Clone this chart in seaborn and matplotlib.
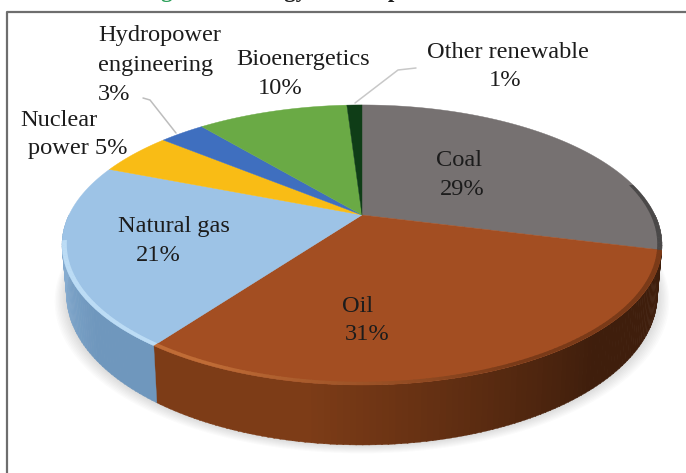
import numpy as np
import matplotlib
matplotlib.use('Agg')
import matplotlib.pyplot as plt
import matplotlib.colors as mc
import seaborn as sns

sources = ['Coal', 'Oil', 'Natural gas', 'Nuclear power', 'Hydropower engineering', 'Bioenergetics', 'Other renewable']
shares = [29, 31, 21, 5, 3, 10, 1]
top_colors = ['#767171', '#a34e22', '#9dc3e6', '#f9bc15', '#3f6fbf', '#6aaa45', '#0f3d17']
# side of the disc, colour at start and end of each visible piece (clockwise)
side_start = ['#3a3838', '#3f1e0c', '#6f97bd', '#8ab0d4', '#8ab0d4', '#8ab0d4', '#8ab0d4']
side_end = ['#3a3838', '#7d3c17', '#86acd0', '#8ab0d4', '#8ab0d4', '#8ab0d4', '#8ab0d4']
rim_start = ['#4a4848', '#7a3a18', '#bcdcf5', '#f9bc15', '#3f6fbf', '#6aaa45', '#0f3d17']
rim_end = ['#4a4848', '#c06c36', '#bcdcf5', '#f9bc15', '#3f6fbf', '#6aaa45', '#0f3d17']

sns.set_theme(style='white')
plt.rcParams['font.family'] = ['Liberation Serif', 'DejaVu Serif']

CX, CY = 362, 215
RX, K, C = 293, 133.6, 0.214
DEPTH = 60


def proj(theta, r=1.0, drop=0.0, shrink=1.0):
    # clockwise angle from top -> pixel position, tilted disc with perspective
    u = r * np.sin(theta)
    v = r * np.cos(theta)
    w = 1 + C * v
    x = CX + shrink * RX * u / w
    y = CY - K * v / w + drop * (1 - C) / w
    return x, y


def ring(a, b, r=1.0, drop=0.0, shrink=1.0, n=200):
    return proj(np.linspace(a, b, n), r, drop, shrink)


fig, ax = plt.subplots(figsize=(6.86, 4.73), dpi=100)
fig.subplots_adjust(0, 0, 1, 1)
ax.set_xlim(0, 686)
ax.set_ylim(473, 0)
ax.axis('off')

# frame
ax.plot([7, 7, 686], [473, 12, 12], color='#6e6e6e', lw=1.6, zorder=1)

# title, the reference is cropped through it too: only the descenders show
ax.text(141, -3.5, 'Figure 1:', fontsize=16.5, fontweight='bold', color='#2ca05a', va='baseline', zorder=1)
ax.text(236, -3.5, 'Energy consumption', fontsize=16.5, fontweight='bold', color='#1c1c1c', va='baseline', zorder=1)

# soft shadow under the disc
for grow, alpha in zip(np.linspace(12, 1, 9), [0.025] * 9):
    sx, sy = ring(np.pi * 0.45, np.pi * 1.55, 1.0, DEPTH + grow * 0.7, 0.985)
    sx = CX + (sx - CX) * (1 + grow / 300)
    ax.fill(np.r_[sx, sx[0]], np.r_[sy, sy[0]], color='#555555', alpha=alpha, lw=0, zorder=2)

edges = np.deg2rad(np.r_[0, np.cumsum(shares)] * 3.6)

# side wall, thin strips so that the shade can change along it
for i in range(len(shares)):
    a, b = max(edges[i], np.pi / 2), min(edges[i + 1], np.pi * 1.5)
    if a >= b:
        continue
    steps = max(int(np.degrees(b - a)), 1)
    c0, c1 = np.array(mc.to_rgb(side_start[i])), np.array(mc.to_rgb(side_end[i]))
    cuts = np.linspace(a, b, steps + 1)
    for j in range(steps):
        # dark stays dark for the first part of the piece, then gets lighter
        t = np.clip((j / steps - 0.3) / 0.45, 0, 1)
        col = c0 + (c1 - c0) * t
        x0, y0 = ring(cuts[j], cuts[j + 1] + 0.003, n=6)
        x1, y1 = ring(cuts[j], cuts[j + 1] + 0.003, drop=DEPTH, shrink=0.985, n=6)
        ax.fill(np.r_[x0, x1[::-1]], np.r_[y0, y1[::-1]], color=col, lw=0.3, ec=col, zorder=3)

# top face
for i in range(len(shares)):
    x, y = ring(edges[i], edges[i + 1])
    ax.fill(np.r_[CX, x], np.r_[CY, y], color=top_colors[i], lw=0.3, ec=top_colors[i], zorder=4)

# lighter rim along the front edge of the top face
for i in range(len(shares)):
    a, b = edges[i], edges[i + 1]
    steps = max(int(np.degrees(b - a)), 1)
    c0, c1 = np.array(mc.to_rgb(rim_start[i])), np.array(mc.to_rgb(rim_end[i]))
    cuts = np.linspace(a, b, steps + 1)
    for j in range(steps):
        if not (np.pi * 0.42 < cuts[j] < np.pi * 1.44):
            continue
        col = c0 + (c1 - c0) * np.clip((j / steps - 0.45) / 0.45, 0, 1)
        x0, y0 = ring(cuts[j], cuts[j + 1] + 0.003, r=0.985, n=4)
        x1, y1 = ring(cuts[j], cuts[j + 1] + 0.003, r=1.0, n=4)
        ax.fill(np.r_[x0, x1[::-1]], np.r_[y0, y1[::-1]], color=col, lw=0, zorder=5)

# leader lines
ax.plot([143, 150, 176], [98, 100, 133], color='#bdbdbd', lw=1.1, zorder=6)
ax.plot([416, 398, 355], [68, 70, 103], color='#c8c8c8', lw=1.1, zorder=6)

# labels
FS = 17.6
INK = '#1c1c1c'
labels = [
    ('Hydropower', 98, 36, 'left'), ('engineering', 98, 66, 'left'), ('3%', 98, 95, 'left'),
    ('Bioenergetics', 303, 60, 'center'), ('10%', 280, 88, 'center'),
    ('Other renewable', 508, 53, 'center'), ('1%', 505, 81, 'center'),
    ('Nuclear', 20, 120, 'left'), ('power 5%', 28, 148, 'left'),
    ('Coal', 459, 160, 'center'), ('29%', 462, 189, 'center'),
    ('Natural gas', 174, 226, 'center'), ('21%', 158, 255, 'center'),
    ('Oil', 358, 306, 'center'), ('31%', 367, 334, 'center'),
]
for txt, lx, ly, ha in labels:
    ax.text(lx, ly, txt, fontsize=FS, color=INK, ha=ha, va='center', zorder=7)

fig.savefig('out.png', dpi=100)
